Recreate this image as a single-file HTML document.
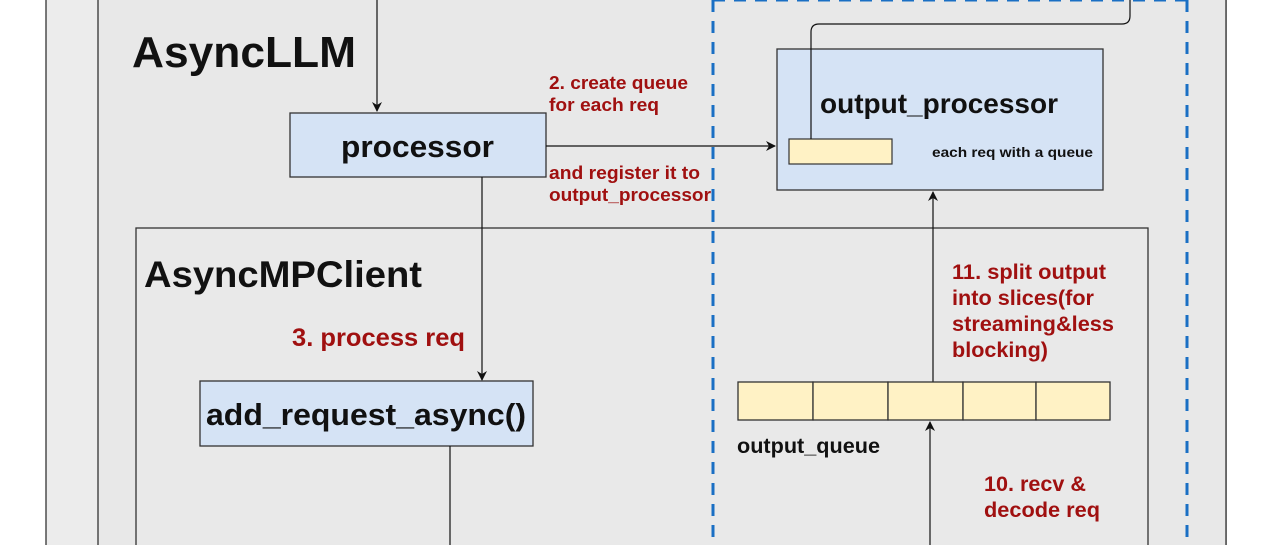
<!DOCTYPE html>
<html><head><style>
body{margin:0;width:1280px;height:545px;overflow:hidden;background:#fff;font-family:"Liberation Sans",sans-serif;}
</style></head><body>
<svg width="1280" height="545" xmlns="http://www.w3.org/2000/svg" font-family="Liberation Sans, sans-serif" font-weight="bold">
<defs><marker id="a" markerWidth="10" markerHeight="10" refX="9" refY="5" orient="auto" markerUnits="userSpaceOnUse"><path d="M0,0 L10,5 L0,10 L3,5z" fill="#111"/></marker></defs>
<rect x="46" y="-5" width="1180" height="560" fill="#ececec" stroke="#333" stroke-width="1.3"/>
<rect x="98" y="-5" width="1128" height="560" fill="#e8e8e8" stroke="#333" stroke-width="1.3"/>
<rect x="136" y="228" width="1012" height="330" fill="#e9e9e9" stroke="#333" stroke-width="1.3"/>
<line x1="713" y1="0" x2="713" y2="545" stroke="#1a6fc4" stroke-width="3" stroke-dasharray="12,9"/>
<line x1="1187" y1="0" x2="1187" y2="545" stroke="#1a6fc4" stroke-width="3" stroke-dasharray="12,9"/>
<line x1="713" y1="0" x2="1187" y2="0" stroke="#1a6fc4" stroke-width="3" stroke-dasharray="12,9"/>
<text x="132" y="67" font-size="44" fill="#111" textLength="224" lengthAdjust="spacingAndGlyphs">AsyncLLM</text>
<text x="144" y="287" font-size="37" fill="#111" textLength="278" lengthAdjust="spacingAndGlyphs">AsyncMPClient</text>
<line x1="377" y1="0" x2="377" y2="111" stroke="#111" stroke-width="1.2" marker-end="url(#a)"/>
<rect x="290" y="113" width="256" height="64" fill="#d5e3f5" stroke="#333" stroke-width="1.3"/>
<text x="341" y="157" font-size="31" fill="#111" textLength="153" lengthAdjust="spacingAndGlyphs">processor</text>
<line x1="546" y1="146" x2="775" y2="146" stroke="#111" stroke-width="1.2" marker-end="url(#a)"/>
<g font-size="18" fill="#a01010">
<text x="549" y="89" textLength="139" lengthAdjust="spacingAndGlyphs">2. create queue</text><text x="549" y="111" textLength="110" lengthAdjust="spacingAndGlyphs">for each req</text>
<text x="549" y="179" textLength="151" lengthAdjust="spacingAndGlyphs">and register it to</text><text x="549" y="201" textLength="162" lengthAdjust="spacingAndGlyphs">output_processor</text>
</g>
<line x1="482" y1="177" x2="482" y2="380" stroke="#111" stroke-width="1.2" marker-end="url(#a)"/>
<text x="292" y="346" font-size="25" fill="#a01010" textLength="173" lengthAdjust="spacingAndGlyphs">3. process req</text>
<rect x="200" y="381" width="333" height="65" fill="#d5e3f5" stroke="#333" stroke-width="1.3"/>
<text x="206" y="425" font-size="31" fill="#111" textLength="320" lengthAdjust="spacingAndGlyphs">add_request_async()</text>
<line x1="450" y1="446" x2="450" y2="545" stroke="#111" stroke-width="1.2"/>
<rect x="777" y="49" width="326" height="141" fill="#d5e3f5" stroke="#333" stroke-width="1.3"/>
<text x="820" y="113" font-size="28" fill="#111" textLength="238" lengthAdjust="spacingAndGlyphs">output_processor</text>
<rect x="789" y="139" width="103" height="25" fill="#fff2c5" stroke="#333" stroke-width="1.2"/>
<text x="932" y="157" font-size="14" fill="#111" textLength="161" lengthAdjust="spacingAndGlyphs">each req with a queue</text>
<path d="M811,139 V32 Q811,24 819,24 H1122 Q1130,24 1130,16 V0" fill="none" stroke="#111" stroke-width="1.2"/>
<line x1="933" y1="382" x2="933" y2="192" stroke="#111" stroke-width="1.2" marker-end="url(#a)"/>
<g font-size="21" fill="#a01010">
<text x="952" y="279" textLength="154" lengthAdjust="spacingAndGlyphs">11. split output</text><text x="952" y="305" textLength="142" lengthAdjust="spacingAndGlyphs">into slices(for</text>
<text x="952" y="331" textLength="162" lengthAdjust="spacingAndGlyphs">streaming&amp;less</text><text x="952" y="357" textLength="96" lengthAdjust="spacingAndGlyphs">blocking)</text>
<text x="984" y="491" textLength="102" lengthAdjust="spacingAndGlyphs">10. recv &amp;</text><text x="984" y="517" textLength="116" lengthAdjust="spacingAndGlyphs">decode req</text>
</g>
<g fill="#fff2c5" stroke="#333" stroke-width="1.3">
<rect x="738" y="382" width="75" height="38"/><rect x="813" y="382" width="75" height="38"/>
<rect x="888" y="382" width="75" height="38"/><rect x="963" y="382" width="73" height="38"/>
<rect x="1036" y="382" width="74" height="38"/>
</g>
<text x="737" y="453" font-size="21" fill="#111" textLength="143" lengthAdjust="spacingAndGlyphs">output_queue</text>
<line x1="930" y1="545" x2="930" y2="422" stroke="#111" stroke-width="1.2" marker-end="url(#a)"/>
</svg>
</body></html>
